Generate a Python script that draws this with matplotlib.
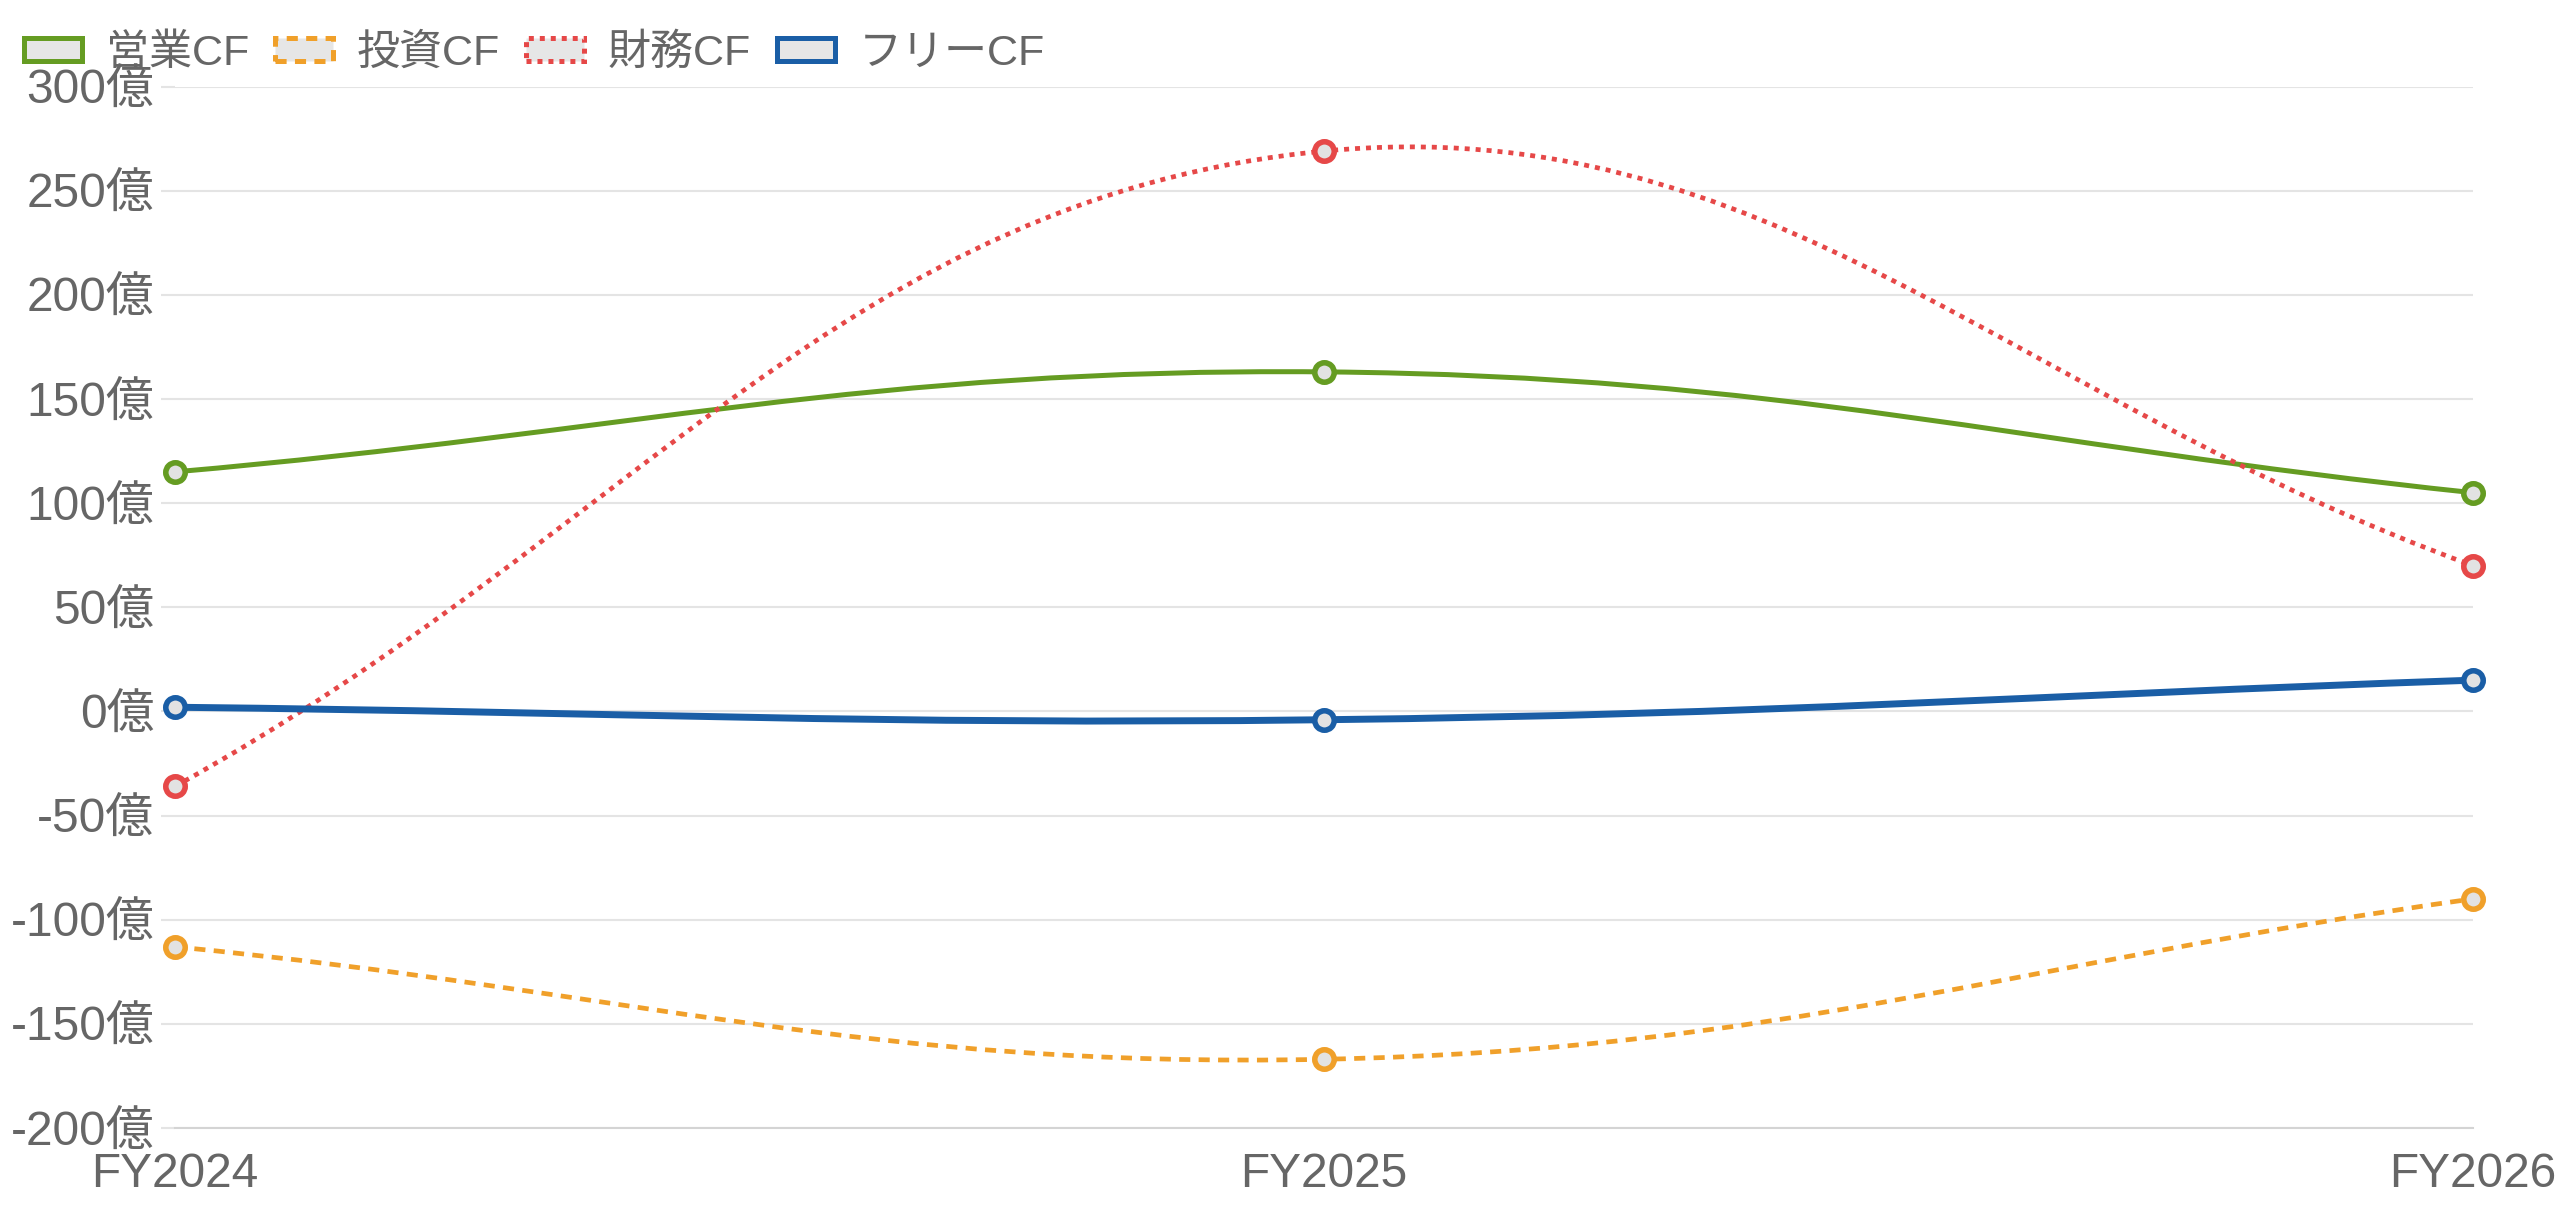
import numpy as np
import matplotlib
matplotlib.use("Agg")
import matplotlib.pyplot as plt
from matplotlib.path import Path
from matplotlib.patches import PathPatch, Rectangle

plt.rcParams['font.family'] = ['Liberation Sans', 'Noto Sans CJK JP', 'DejaVu Sans']
plt.rcParams['lines.scale_dashes'] = False

# データ（単位: 億円）
years = ['FY2024', 'FY2025', 'FY2026']
operating_cf = [115, 163, 105]
investing_cf = [-113, -167, -90]
financing_cf = [-36, 269, 70]
free_cf = [2, -4, 15]
y_ticks = [-200, -150, -100, -50, 0, 50, 100, 150, 200, 250, 300]

series = [
    ('営業CF', operating_cf, '#659c22', 3.6, 'solid'),
    ('投資CF', investing_cf, '#f0a02a', 3.4, (0, (8, 6))),
    ('財務CF', financing_cf, '#e64848', 3.4, (0, (3.6, 4.3))),
    ('フリーCF', free_cf, '#1a5ea6', 5.0, 'solid'),
]


def chartjs_path(ax, xs, ys, tension=0.4):
    """Chart.js風のベジェ曲線パスを作る（距離はピクセル空間で計算）"""
    data = np.column_stack([xs, ys]).astype(float)
    pix = ax.transData.transform(data)
    n = len(data)
    cp_prev = np.zeros_like(data)
    cp_next = np.zeros_like(data)
    for i in range(n):
        ip, inx = max(i - 1, 0), min(i + 1, n - 1)
        d01 = np.hypot(*(pix[i] - pix[ip]))
        d12 = np.hypot(*(pix[inx] - pix[i]))
        tot = d01 + d12
        s01 = d01 / tot if tot else 0
        s12 = d12 / tot if tot else 0
        cp_prev[i] = data[i] - tension * s01 * (data[inx] - data[ip])
        cp_next[i] = data[i] + tension * s12 * (data[inx] - data[ip])
    verts = [data[0]]
    codes = [Path.MOVETO]
    for i in range(n - 1):
        verts += [cp_next[i], cp_prev[i + 1], data[i + 1]]
        codes += [Path.CURVE4] * 3
    return Path(verts, codes)


fig = plt.figure(figsize=(25.6, 12.09), dpi=100)
ax = fig.add_axes([175 / 2560, 1 - 1128 / 1209, (2473 - 175) / 2560, (1128 - 86.5) / 1209])
x = np.arange(len(years))
ax.set_xlim(0, len(years) - 1)
ax.set_ylim(-200, 300)

ax.set_yticks(y_ticks)
ax.set_yticklabels([f'{v}億' for v in y_ticks])
ax.set_xticks(x)
ax.set_xticklabels(years)
ax.grid(axis='y', color='#e4e4e4', linewidth=1.5)
ax.tick_params(axis='y', length=10, width=1.5, color='#e4e4e4', pad=5,
               labelsize=34.5, labelcolor='#666666')
ax.tick_params(axis='x', length=0, pad=17, labelsize=34.5, labelcolor='#666666')
for s in ['top', 'right', 'left']:
    ax.spines[s].set_visible(False)
ax.spines['bottom'].set_color('#d4d4d4')
ax.spines['bottom'].set_linewidth(1.5)
ax.set_axisbelow(True)

handles = []
for name, vals, color, lw, ls in series:
    path = chartjs_path(ax, x, vals)
    ax.add_patch(PathPatch(path, fill=False, edgecolor=color, linewidth=lw,
                           linestyle=ls, capstyle='butt', zorder=3))
    ax.plot(x, vals, linestyle='none', marker='o', markersize=14,
            markerfacecolor='#e2e2e2', markeredgecolor=color,
            markeredgewidth=4.0, clip_on=False, zorder=4)
    handles.append(Rectangle((0, 0), 1, 1, facecolor='#e6e6e6', edgecolor=color,
                             linewidth=3.6, linestyle=ls, label=name))

leg = fig.legend(handles=handles, loc='upper left', bbox_to_anchor=(0.0095, 0.972),
                 ncol=4, frameon=False, fontsize=31, handlelength=1.35,
                 handleheight=0.45, handletextpad=0.55, columnspacing=0.6,
                 borderpad=0, borderaxespad=0)
for t in leg.get_texts():
    t.set_color('#666666')

fig.savefig('out.png', dpi=100)
